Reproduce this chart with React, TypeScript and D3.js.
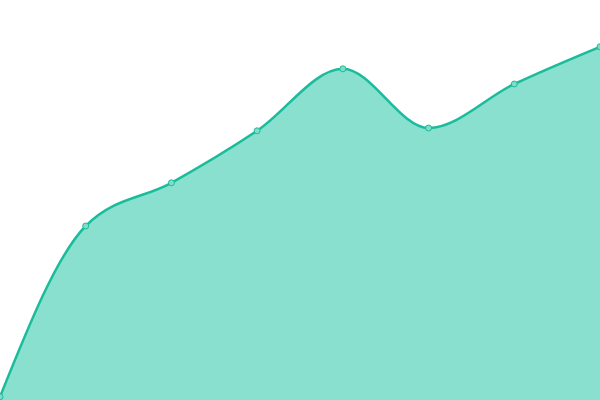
import React, { useEffect, useRef } from 'react';
import * as d3 from 'd3';

const categories = ['A', 'B', 'C', 'D', 'E', 'F', 'G', 'H'];
const values = [0.8, 43.5, 54.3, 67.3, 82.8, 68, 79, 88.3];

const WIDTH = 600;
const HEIGHT = 400;

const App: React.FC = () => {
  const svgRef = useRef<SVGSVGElement>(null);

  useEffect(() => {
    if (!svgRef.current) return;
    const svg = d3.select(svgRef.current);
    svg.selectAll('*').remove();

    const x = d3.scalePoint<string>().domain(categories).range([0, WIDTH]);
    const y = d3.scaleLinear().domain([0, 100]).range([HEIGHT, 0]);

    const data = categories.map((c, i) => ({ c, v: values[i] }));

    const area = d3.area<{ c: string; v: number }>()
      .x(d => x(d.c)!)
      .y0(HEIGHT)
      .y1(d => y(d.v))
      .curve(d3.curveMonotoneX);

    const line = d3.line<{ c: string; v: number }>()
      .x(d => x(d.c)!)
      .y(d => y(d.v))
      .curve(d3.curveMonotoneX);

    svg.append('path')
      .attr('d', area(data))
      .attr('fill', '#89e0cf');

    svg.append('path')
      .attr('d', line(data))
      .attr('fill', 'none')
      .attr('stroke', '#1abc9c')
      .attr('stroke-width', 2.5);

    svg.selectAll('circle')
      .data(data)
      .join('circle')
      .attr('cx', d => x(d.c)!)
      .attr('cy', d => y(d.v))
      .attr('r', 3)
      .attr('fill', '#7fddca')
      .attr('stroke', '#1abc9c')
      .attr('stroke-width', 1);
  }, []);

  return (
    <div style={{ position: 'fixed', left: 0, top: 0, width: WIDTH, height: HEIGHT, background: '#fff' }}>
      <svg ref={svgRef} width={WIDTH} height={HEIGHT} style={{ display: 'block' }} />
    </div>
  );
};

export default App;
